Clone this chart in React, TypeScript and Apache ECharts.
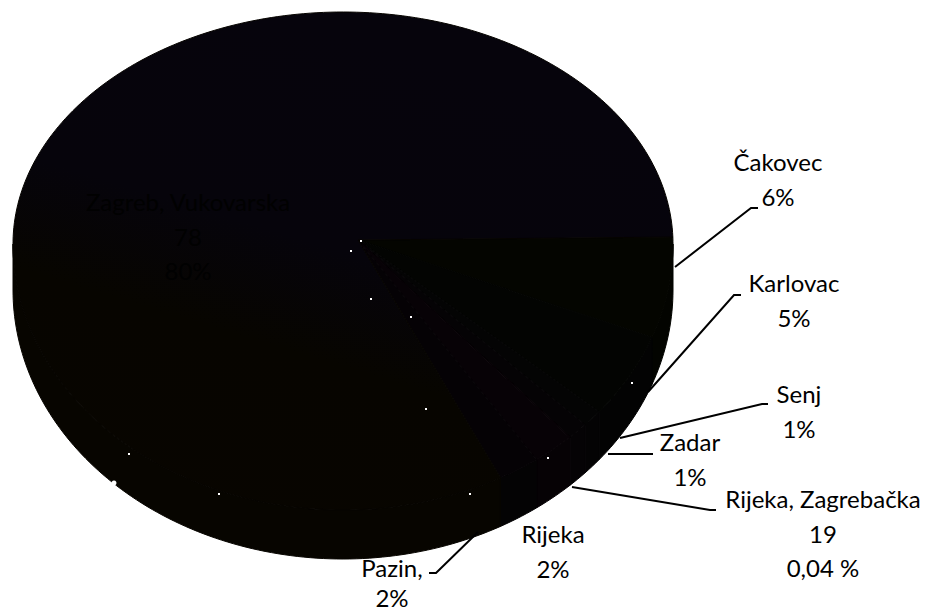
import React, { useEffect, useRef } from "react";
import * as echarts from "echarts";

// Data (slice shares in %, clockwise from the east)
const categories = ["Čakovec", "Karlovac", "Senj", "Zadar", "Rijeka, Zagrebačka", "Rijeka", "Pazin,", "Zagreb, Vukovarska"];
const shares = [6, 5, 1, 1, 0.04, 2, 2, 80];
const labelTexts = ["Čakovec\n6%", "Karlovac\n5%", "Senj\n1%", "Zadar\n1%", "Rijeka, Zagrebačka\n19\n0,04 %", "Rijeka\n2%", "Pazin,\n2%", "Zagreb, Vukovarska\n78\n80%"];
const topColors = ["#040500", "#030402", "#040404", "#050305", "#070205", "#070206", "#050205", "#070500"];
const sideColors = ["#030400", "#030303", "#040304", "#050305", "#060205", "#060205", "#040304", "#070500"];

// Layout
const cx = 343, rx = 330;
const startAngle = -0.03;
const topCy = 244, topBack = 232, topFront = 266;
const botCy = 290, botBack = 232, botFront = 269;
const apexX = 358, apexY = 240;
const labelPos: number[][] = [[778, 179], [794, 300], [799, 411], [690, 459], [823, 533], [553, 551], [392, 582], [188, 236]];
const labelLineHeights = [34.5, 34.5, 34.5, 34.5, 34.5, 34.5, 30, 34.5];
const leaders: number[][][] = [
  [[675, 267], [751, 208], [758, 208]],
  [[648, 392], [734, 295], [741, 295]],
  [[620, 438], [762, 404], [768, 404]],
  [[608, 454], [653, 454]],
  [[572, 487], [710, 510], [716, 510]],
  [[478, 532], [436, 573], [429, 573]],
];
const specks: number[][] = [[361, 241], [351, 251], [371, 299], [411, 317], [426, 409], [548, 458], [470, 494], [632, 383], [129, 454], [219, 494]];

const total = shares.reduce((a, b) => a + b, 0);
const stops: number[] = [];
shares.reduce((acc, v) => { stops.push(acc); return acc + (v / total) * Math.PI * 2; }, startAngle);

const edge = (a: number, cy: number, back: number, front: number) => {
  const s = Math.sin(a);
  return [cx + rx * Math.cos(a), cy + (s > 0 ? front : back) * s];
};
const arcAngles = (a0: number, a1: number) => {
  const n = Math.max(2, Math.ceil((a1 - a0) / 0.02));
  const out: number[] = [];
  for (let i = 0; i <= n; i++) out.push(a0 + ((a1 - a0) * i) / n);
  return out;
};

export default function App() {
  const ref = useRef<HTMLDivElement>(null);
  useEffect(() => {
    const chart = echarts.init(ref.current!, undefined, { renderer: "svg" });
    const pieData = shares.map((v, i) => ({ name: categories[i], value: v }));
    const span = (i: number) => [stops[i], stops[i] + (shares[i] / total) * Math.PI * 2];
    const zagrebFill = new echarts.graphic.LinearGradient(0, 1, 0.4, 0, [
      { offset: 0, color: "#080500" },
      { offset: 0.42, color: "#070500" },
      { offset: 0.62, color: "#06040b" },
      { offset: 1, color: "#06040c" },
    ]);
    chart.setOption({
      animation: false,
      backgroundColor: "#ffffff",
      series: [
        {
          type: "custom",
          coordinateSystem: "none",
          silent: true,
          z: 1,
          data: pieData,
          renderItem: (p: any) => {
            const [a0, a1] = span(p.dataIndex);
            const lo = Math.max(a0, 0), hi = Math.min(a1, Math.PI);
            if (hi <= lo) return { type: "group", children: [] };
            const angles = arcAngles(lo, hi);
            const pts = [
              ...angles.map((a) => edge(a, topCy, topBack, topFront)),
              ...angles.slice().reverse().map((a) => edge(a, botCy, botBack, botFront)),
            ];
            return { type: "polygon", shape: { points: pts }, style: { fill: sideColors[p.dataIndex], stroke: sideColors[p.dataIndex], lineWidth: 1 } };
          },
        },
        {
          type: "custom",
          coordinateSystem: "none",
          silent: true,
          z: 2,
          data: pieData,
          renderItem: (p: any) => {
            const [a0, a1] = span(p.dataIndex);
            const pts = [[apexX, apexY], ...arcAngles(a0, a1).map((a) => edge(a, topCy, topBack, topFront))];
            const isMain = p.dataIndex === shares.length - 1;
            return { type: "polygon", shape: { points: pts }, style: { fill: isMain ? zagrebFill : topColors[p.dataIndex], stroke: isMain ? "#060400" : topColors[p.dataIndex], lineWidth: 1 } };
          },
        },
      ],
      graphic: [
        ...specks.map((s) => ({ type: "rect", z: 10, shape: { x: s[0] - 1, y: s[1] - 1, width: 2, height: 2 }, style: { fill: "#ffffff" } })),
        { type: "circle", z: 10, shape: { cx: 114, cy: 483, r: 2.5 }, style: { fill: "#ffffff" } },
        ...leaders.map((l) => ({ type: "polyline", z: 11, shape: { points: l }, style: { stroke: "#000000", lineWidth: 2, fill: "none" } })),
        ...labelTexts.map((t, i) => ({
          type: "text",
          z: 12,
          x: labelPos[i][0],
          y: labelPos[i][1],
          style: {
            text: t,
            fill: i === 7 ? "#010101" : "#000000",
            font: "24px Lato, 'Open Sans', sans-serif",
            lineHeight: labelLineHeights[i],
            align: "center",
            verticalAlign: "middle",
          },
        })),
      ],
    });
    return () => chart.dispose();
  }, []);
  return <div ref={ref} style={{ position: "absolute", left: 0, top: 0, width: 926, height: 610 }} />;
}
